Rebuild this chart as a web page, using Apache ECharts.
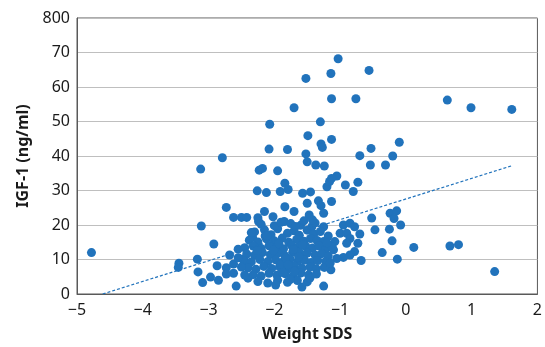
<!DOCTYPE html>
<html>
<head>
<meta charset="utf-8">
<script src="https://cdn.jsdelivr.net/npm/echarts@6/dist/echarts.min.js"></script>
<style>
  html, body { margin: 0; padding: 0; background: #fff; }
  #chart { width: 545px; height: 347px; }
</style>
</head>
<body>
<div id="chart"></div>
<script>
// tick labels as printed on the original figure
const xTickLabels = ['−5', '−4', '−3', '−2', '−1', '0', '1', '2'];
const yTickLabels = ['0', '10', '20', '30', '40', '50', '60', '70', '800'];

// Weight SDS (x) and IGF-1 (y)
const weightSds = [
  -4.78, -3.12, -2.79, -3.11, -2.92, -3.45, -3.46, -3.17, -3.16, -3.09,
  -2.97, -2.85, -2.87, -2.73, -2.73, -2.68, -2.62, -2.62, -2.55, -2.58,
  -2.48, -2.40, -2.33, -2.26, -2.23, -2.18, -2.12, -2.73, -2.62, -2.50,
  -2.42, -2.25, -2.24, -2.15, -2.08, -1.80, -1.52, -1.50, -1.37, -1.24,
  -0.70, -0.54, -1.95, -1.91, -1.84, -1.79, -1.57, -1.45, -1.20, -1.16,
  -1.05, -1.13, -0.92, -0.80, -0.73, -1.84, -1.70, -1.50, -1.47, -1.33,
  -1.29, -1.25, -1.13, -1.43, -1.25,
  // ring to the right of the main cluster
  -0.95, -0.85, -0.78, -0.70, -0.73, -0.78, -0.85, -0.95, -1.05, -1.10,
  -1.08, -1.00, -0.90, -0.85, -0.90, -0.68, -1.14, -1.25, -0.52, -0.47,
  // right side
  -0.20, -0.31, -0.24, -0.14, -0.18, -0.25, -0.08, -0.21, -0.36, -0.13,
  0.12, 0.67, 0.80, 1.35, 0.63, 0.99, 1.61,
  // high values
  -1.03, -0.56, -1.52, -1.14, -1.13, -0.76, -1.70, -2.07, -1.30, -1.49,
  -1.29, -1.27, -1.13, -0.53, -0.10,
  // dense cluster
  -2.30, -2.15, -2.05, -1.95, -1.80, -1.70, -1.62, -1.50, -1.40, -1.30,
  -2.38, -2.25, -2.12, -2.00, -1.88, -1.78, -1.66, -1.55, -1.45, -1.35, -1.25,
  -2.45, -2.32, -2.20, -2.08, -1.96, -1.86, -1.74, -1.64, -1.52, -1.42, -1.32, -1.22,
  -2.42, -2.30, -2.18, -2.06, -1.95, -1.84, -1.72, -1.60, -1.50, -1.38, -1.28, -1.18,
  -2.45, -2.35, -2.22, -2.10, -1.98, -1.88, -1.76, -1.64, -1.54, -1.44, -1.34, -1.22,
  -2.40, -2.28, -2.16, -2.04, -1.92, -1.80, -1.70, -1.58, -1.46, -1.36, -1.24,
  -2.32, -2.20, -2.08, -1.96, -1.84, -1.72, -1.60, -1.48, -1.36,
  -2.25, -2.10, -1.95, -1.80, -1.65, -1.50,
  -2.20, -2.00, -1.85, -1.75, -1.60, -1.55, -1.38,
  -2.55, -2.50, -2.45, -2.35, -2.02, -1.90, -1.68, -1.58, -1.42, -1.18,
  -1.15, -1.12, -1.20, -2.14, -1.76, -1.98, -2.26, -1.62, -1.90, -1.46,
  -2.01, -1.93, -1.83, -1.71, -1.63, -1.57, -2.11, -1.79, -1.69, -1.87
];
const igf1 = [
  12.0, 36.2, 39.5, 19.7, 14.5, 8.9, 7.7, 10.1, 6.4, 3.3,
  4.9, 4.0, 8.2, 7.6, 5.8, 11.3, 8.7, 6.0, 13.0, 2.3,
  10.1, 4.6, 16.4, 29.9, 35.9, 36.4, 29.4, 25.1, 22.2, 22.2,
  22.2, 22.1, 21.0, 23.9, 42.0, 41.9, 40.6, 38.3, 37.4, 37.1,
  40.1, 37.4, 35.7, 29.7, 32.1, 30.3, 29.2, 29.6, 31.1, 32.6,
  34.2, 33.5, 31.6, 29.7, 32.4, 25.3, 23.9, 26.3, 22.9, 27.0,
  25.6, 23.4, 26.8, 19.5, 19.5,
  20.0, 20.5, 19.5, 17.4, 14.7, 12.3, 11.3, 10.6, 10.3, 12.8,
  15.2, 17.6, 17.6, 16.1, 14.7, 9.7, 7.0, 2.3, 22.0, 18.6,
  40.0, 37.4, 23.4, 24.1, 21.9, 18.8, 20.0, 15.4, 12.0, 10.1,
  13.5, 13.9, 14.3, 6.5, 56.2, 54.0, 53.5,
  68.2, 64.8, 62.5, 63.9, 56.6, 56.6, 54.0, 49.2, 49.9, 45.9,
  43.5, 42.5, 44.8, 42.2, 44.0,
  18.0, 18.6, 17.2, 18.9, 17.6, 18.3, 17.0, 18.5, 17.4, 18.1,
  15.6, 15.1, 16.0, 15.4, 16.2, 15.0, 15.8, 15.3, 16.1, 15.5, 15.2,
  13.4, 13.9, 13.2, 14.0, 13.6, 13.1, 14.1, 13.5, 13.8, 13.3, 13.9, 13.0,
  11.6, 11.2, 12.0, 11.4, 11.8, 11.1, 12.1, 11.5, 11.9, 11.3, 11.7, 11.0,
  9.6, 9.3, 10.0, 9.4, 9.9, 9.2, 10.1, 9.5, 9.8, 9.1, 9.7, 9.4,
  7.6, 7.2, 8.0, 7.4, 7.9, 7.1, 8.1, 7.5, 7.8, 7.3, 7.7,
  5.6, 5.2, 6.0, 5.4, 5.9, 5.1, 6.1, 5.5, 5.8,
  3.6, 3.2, 4.0, 3.4, 3.9, 3.5,
  20.2, 19.8, 21.0, 20.4, 19.9, 21.2, 20.6,
  10.5, 7.8, 5.5, 17.8, 22.4, 20.8, 19.6, 2.0, 21.5, 16.8,
  9.0, 13.6, 14.8, 16.8, 4.2, 2.6, 12.6, 12.2, 8.6, 4.6,
  12.7, 14.6, 10.4, 12.9, 10.8, 14.3, 16.9, 8.5, 6.6, 6.2
];

// dotted linear trendline, endpoints
const trendSds = [-4.61, 1.60];
const trendIgf = [0, 37.1];

const points = weightSds.map((x, i) => [x, igf1[i]]);
const trend = trendSds.map((x, i) => [x, trendIgf[i]]);

const blue = '#2173bc';
const chart = echarts.init(document.getElementById('chart'));

const option = {
  animation: false,
  grid: {
    left: 77, right: 3, top: 18, bottom: 53,
    show: true, borderColor: '#595959', borderWidth: 1
  },
  xAxis: {
    type: 'value',
    min: -5, max: 2, interval: 1,
    name: 'Weight SDS',
    nameLocation: 'middle',
    nameGap: 32,
    nameTextStyle: { fontFamily: 'Noto Sans', fontSize: 16, fontWeight: 'bold', color: '#1a1a1a' },
    axisLine: { show: true, onZero: false, lineStyle: { color: '#595959' } },
    axisTick: { show: false },
    splitLine: { show: false },
    axisLabel: {
      margin: 8,
      fontFamily: 'Noto Sans', fontSize: 16, color: '#1a1a1a',
      formatter: v => xTickLabels[Math.round(v) + 5]
    }
  },
  yAxis: {
    type: 'value',
    min: 0, max: 80, interval: 10,
    name: 'IGF-1 (ng/ml)',
    nameLocation: 'middle',
    nameGap: 46,
    nameTextStyle: { fontFamily: 'Noto Sans', fontSize: 16, fontWeight: 'bold', color: '#1a1a1a' },
    axisLine: { show: true, onZero: false, lineStyle: { color: '#595959' } },
    axisTick: { show: false },
    splitLine: { show: true, lineStyle: { color: '#bfbfbf', width: 1 } },
    axisLabel: {
      margin: 7,
      fontFamily: 'Noto Sans', fontSize: 16, color: '#1a1a1a',
      formatter: v => yTickLabels[Math.round(v / 10)]
    }
  },
  series: [
    {
      type: 'scatter',
      data: points,
      symbolSize: 9,
      itemStyle: { color: blue, opacity: 1 }
    },
    {
      type: 'line',
      data: trend,
      symbol: 'none',
      lineStyle: { color: blue, width: 1.2, type: [3, 2] }
    }
  ]
};

chart.setOption(option);
</script>
</body>
</html>
